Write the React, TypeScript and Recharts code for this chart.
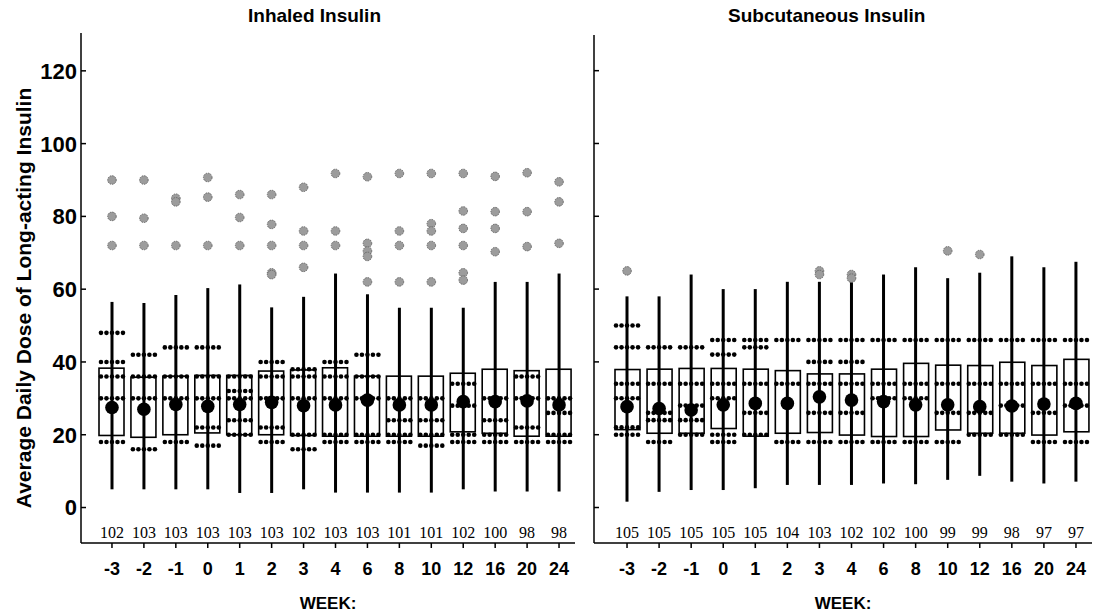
import { ComposedChart, Bar, Scatter, XAxis, YAxis } from "recharts";

const weeks = ["-3", "-2", "-1", "0", "1", "2", "3", "4", "6", "8", "10", "12", "16", "20", "24"];
const yTicks = [0, 20, 40, 60, 80, 100, 120];

// Inhaled insulin
const inhQ1 = [19.8, 19.3, 20.0, 20.5, 20.0, 20.0, 19.8, 19.6, 19.6, 19.6, 19.6, 20.8, 20.4, 19.6, 19.6];
const inhQ3 = [38.3, 35.8, 36.1, 36.3, 36.3, 37.5, 37.8, 38.4, 36.1, 36.1, 36.1, 36.9, 38.0, 37.6, 38.0];
const inhMin = [5, 5, 5, 5, 4, 4, 5, 4.1, 4.1, 4.1, 4.1, 5, 4.4, 4.4, 4.4];
const inhMax = [56.5, 56.2, 58.4, 60.3, 61.3, 55.0, 57.9, 64.3, 58.6, 54.9, 54.9, 54.9, 62, 62, 64.3];
const inhMean = [27.5, 27.0, 28.3, 27.8, 28.3, 28.9, 28.0, 28.2, 29.5, 28.2, 28.2, 29.1, 29.1, 29.3, 28.2];
const inhN = [102, 103, 103, 103, 103, 103, 102, 103, 103, 101, 101, 102, 100, 98, 98];
const inhOutliers = [
  [90, 80, 72], [90, 79.5, 72], [85, 84, 72], [90.7, 85.3, 72], [86, 79.7, 72],
  [86, 77.8, 72, 64.5, 64], [88, 76, 72, 66], [91.8, 76, 72], [90.9, 72.6, 70.5, 69, 62], [91.8, 76, 72, 62],
  [91.8, 78, 76, 72, 62], [91.8, 81.5, 76.7, 72, 64.5, 62.5], [91, 81.3, 76.7, 70.3], [92, 81.3, 71.7], [89.5, 84, 72.6],
];
const inhRows = [
  [48, 40, 36, 30, 18], [42, 36, 30, 16], [44, 36, 30, 18], [44, 36, 30, 22, 17], [36, 32, 30, 24, 20],
  [40, 36, 30, 22, 18], [38, 36, 30, 20, 16], [40, 36, 30, 20, 18], [42, 36, 30, 20, 18], [30, 24, 20, 18],
  [30, 24, 20, 17], [34, 28, 20, 18], [30, 24, 20, 18], [36, 30, 22, 18], [30, 26, 20, 18],
];

// Subcutaneous insulin
const subQ1 = [21.4, 20.4, 20.4, 21.7, 19.6, 20.4, 20.6, 19.9, 19.5, 19.5, 21.3, 20.4, 20.4, 19.9, 20.8];
const subQ3 = [37.9, 38.0, 38.2, 38.2, 38.0, 37.6, 36.7, 36.7, 38.0, 39.6, 39.1, 39.0, 39.9, 39.0, 40.7];
const subMin = [1.6, 4.3, 4.8, 4.8, 5.3, 6.2, 6.2, 6.2, 6.6, 6.4, 7.6, 8.7, 7.1, 6.6, 7.1];
const subMax = [58, 58, 64, 60, 60, 62, 62, 63, 64, 66, 63, 64.5, 69, 66, 67.5];
const subMean = [27.7, 27.2, 26.8, 28.2, 28.6, 28.6, 30.4, 29.5, 29.1, 28.2, 28.2, 27.7, 27.9, 28.4, 28.6];
const subN = [105, 105, 105, 105, 105, 104, 103, 102, 102, 100, 99, 99, 98, 97, 97];
const subOutliers = [[65], [], [], [], [], [], [65, 64], [64, 63], [], [], [70.5], [69.5], [], [], []];
const subRows = [
  [50, 44, 34, 30, 22, 20], [44, 34, 26, 24, 18], [44, 34, 28, 24, 20], [46, 42, 34, 30, 20, 18], [46, 44, 34, 26, 20],
  [46, 34, 18], [46, 40, 34, 26, 18], [46, 40, 34, 26, 18], [46, 34, 30, 18], [46, 34, 30, 18],
  [46, 34, 26, 18], [46, 34, 26, 20], [46, 34, 28, 20], [46, 34, 26, 18], [46, 34, 28, 18],
];

const SANS = "'Liberation Sans', Arial, sans-serif";
const SERIF = "'Liberation Serif', 'Times New Roman', serif";

const buildRows = (q1: number[], q3: number[], mn: number[], mx: number[], mean: number[]) =>
  weeks.map((week, i) => ({ week, box: [q1[i], q3[i]], range: [mn[i], mx[i]], mean: mean[i] }));

const flatten = (lists: number[][]) =>
  lists.flatMap((vals, i) => vals.map((v) => ({ week: weeks[i], v })));

const WhiskerShape = (props: any) => {
  const { x, y, width, height } = props;
  const cx = x + width / 2;
  const top = Math.min(y, y + height);
  return <line x1={cx} x2={cx} y1={top} y2={top + Math.abs(height)} stroke="#000" strokeWidth={3} />;
};

const BoxShape = (props: any) => {
  const { x, y, width, height } = props;
  const top = Math.min(y, y + height);
  return <rect x={x} y={top} width={width} height={Math.abs(height)} fill="none" stroke="#000" strokeWidth={1.6} />;
};

const RowDots = (props: any) => {
  const { cx, cy } = props;
  return (
    <g>
      {[-11, -5.5, 0, 5.5, 11].map((dx) => (
        <circle key={dx} cx={cx + dx} cy={cy} r={2.3} fill="#000" />
      ))}
    </g>
  );
};

const OutlierDot = (props: any) => (
  <circle cx={props.cx} cy={props.cy} r={4.3} fill="#9c9c9c" stroke="#6a6a6a" strokeWidth={1} strokeDasharray="1.5 1" />
);

const MeanDot = (props: any) => <circle cx={props.cx} cy={props.cy} r={6.8} fill="#000" />;

interface PanelProps {
  left: number;
  width: number;
  marginRight: number;
  axisWidth: number;
  top: number;
  padLeft: number;
  domainTop: number;
  showLabels: boolean;
  q1: number[];
  q3: number[];
  mn: number[];
  mx: number[];
  mean: number[];
  counts: number[];
  outliers: number[][];
  rows: number[][];
}

const Panel = (p: PanelProps) => {
  const data = buildRows(p.q1, p.q3, p.mn, p.mx, p.mean);

  const YTick = (props: any) => {
    const { x, y, payload } = props;
    return (
      <g>
        <line x1={x} x2={x + 5} y1={y} y2={y} stroke="#000" strokeWidth={1.5} />
        {p.showLabels && (
          <text x={x - 4} y={y} dy="0.36em" textAnchor="end" fontFamily={SANS} fontWeight="bold" fontSize={22} fill="#000">
            {payload.value}
          </text>
        )}
      </g>
    );
  };

  const XTick = (props: any) => {
    const { x, y, payload } = props;
    const i = weeks.indexOf(String(payload.value));
    return (
      <g>
        <line x1={x} x2={x} y1={y} y2={y + 5} stroke="#000" strokeWidth={1.5} />
        <text x={x} y={y - 5} textAnchor="middle" fontFamily={SERIF} fontSize={16} fill="#000">
          {p.counts[i]}
        </text>
        <text x={x} y={y + 32} textAnchor="middle" fontFamily={SANS} fontWeight="bold" fontSize={18} fill="#000">
          {payload.value}
        </text>
      </g>
    );
  };

  return (
    <div style={{ position: "absolute", left: p.left, top: 0 }}>
      <ComposedChart
        width={p.width}
        height={613}
        data={data}
        margin={{ top: p.top, right: p.marginRight, bottom: 0, left: 0 }}
      >
        <XAxis
          dataKey="week"
          type="category"
          allowDuplicatedCategory={false}
          height={70}
          padding={{ left: p.padLeft, right: 0 }}
          axisLine={{ stroke: "#000", strokeWidth: 1.5 }}
          tickLine={false}
          tickSize={0}
          tickMargin={0}
          interval={0}
          tick={<XTick />}
        />
        <XAxis
          xAxisId="w"
          dataKey="week"
          type="category"
          allowDuplicatedCategory={false}
          hide
          padding={{ left: p.padLeft, right: 0 }}
        />
        <YAxis
          type="number"
          domain={[-9.75, p.domainTop]}
          ticks={yTicks}
          allowDataOverflow
          width={p.axisWidth}
          axisLine={{ stroke: "#000", strokeWidth: 1.5 }}
          tickLine={false}
          tickSize={0}
          tickMargin={0}
          interval={0}
          tick={<YTick />}
        />
        <Bar xAxisId="w" dataKey="range" barSize={4} shape={<WhiskerShape />} isAnimationActive={false} />
        <Bar dataKey="box" barSize={25} shape={<BoxShape />} isAnimationActive={false} />
        <Scatter data={flatten(p.rows)} dataKey="v" shape={<RowDots />} isAnimationActive={false} />
        <Scatter data={flatten(p.outliers)} dataKey="v" shape={<OutlierDot />} isAnimationActive={false} />
        <Scatter dataKey="mean" shape={<MeanDot />} isAnimationActive={false} />
      </ComposedChart>
    </div>
  );
};

export default function App() {
  return (
    <div style={{ position: "absolute", left: 0, top: 0, width: 1093, height: 613, background: "#fff", overflow: "hidden" }}>
      <Panel
        left={0}
        width={580}
        marginRight={5}
        axisWidth={81}
        top={33}
        padLeft={15}
        domainTop={130.4}
        showLabels
        q1={inhQ1}
        q3={inhQ3}
        mn={inhMin}
        mx={inhMax}
        mean={inhMean}
        counts={inhN}
        outliers={inhOutliers}
        rows={inhRows}
      />
      <Panel
        left={580}
        width={513}
        marginRight={1}
        axisWidth={14}
        top={35}
        padLeft={17}
        domainTop={129.8}
        showLabels={false}
        q1={subQ1}
        q3={subQ3}
        mn={subMin}
        mx={subMax}
        mean={subMean}
        counts={subN}
        outliers={subOutliers}
        rows={subRows}
      />
      <svg width={1093} height={613} style={{ position: "absolute", left: 0, top: 0, pointerEvents: "none" }}>
        <text x={248} y={22} fontFamily={SANS} fontWeight="bold" fontSize={19} fill="#000">
          Inhaled Insulin
        </text>
        <text x={728} y={22} fontFamily={SANS} fontWeight="bold" fontSize={19} fill="#000">
          Subcutaneous Insulin
        </text>
        <text
          x={0}
          y={0}
          transform="translate(23 298) rotate(-90)"
          textAnchor="middle"
          dominantBaseline="central"
          fontFamily={SANS}
          fontWeight="bold"
          fontSize={21}
          fill="#000"
        >
          Average Daily Dose of Long-acting Insulin
        </text>
        <text x={328} y={609} textAnchor="middle" fontFamily={SANS} fontWeight="bold" fontSize={17} fill="#000">
          WEEK:
        </text>
        <text x={843} y={609} textAnchor="middle" fontFamily={SANS} fontWeight="bold" fontSize={17} fill="#000">
          WEEK:
        </text>
      </svg>
    </div>
  );
}
